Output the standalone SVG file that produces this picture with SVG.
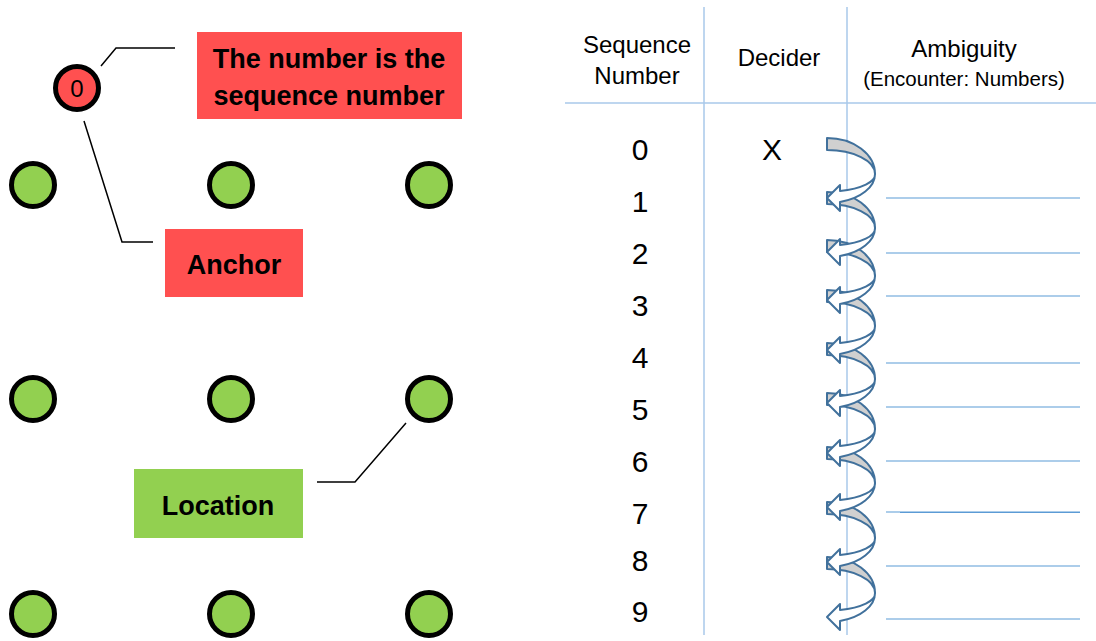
<svg xmlns="http://www.w3.org/2000/svg" width="1096" height="641" viewBox="0 0 1096 641">
  <style>
    .loc { fill: #92d050; stroke: #000; stroke-width: 5; }
    .anc { fill: #ff5050; stroke: #000; stroke-width: 5; }
    .lead { fill: none; stroke: #000; stroke-width: 1.5; }
    .lbl { font-family: "Liberation Sans", Arial, sans-serif; font-weight: bold; font-size: 27px; fill: #000; text-anchor: middle; }
    .hdr { font-family: "Liberation Sans", Arial, sans-serif; font-size: 24px; fill: #000; text-anchor: middle; }
    .sub { font-family: "Liberation Sans", Arial, sans-serif; font-size: 20.5px; fill: #000; text-anchor: middle; }
    .num { font-family: "Liberation Sans", Arial, sans-serif; font-size: 30px; fill: #000; text-anchor: middle; }
    .grid { stroke: #a9c9ea; stroke-width: 1.5; fill: none; }
    .row { stroke: #5b9bd5; stroke-width: 1.2; fill: none; }
    .back { fill: #d0d0d0; stroke: #41719c; stroke-width: 2; stroke-linejoin: round; }
    .front { fill: #ffffff; stroke: #41719c; stroke-width: 2; stroke-linejoin: round; }
  </style>
  <defs>
    <!-- one turn of the curved arrow: back band (grey) and front band with head -->
    <g id="turn">
      <path class="back" d="M0,0 A48,36 0 0 1 48,36 A48,24 0 0 0 0,12 Z"/>
      <path class="front" d="M48,36 A48,29 0 0 1 13,64 L13,73 L0,60 L13,47 L13,53 A48,17 0 0 0 48,36 Z"/>
    </g>
  </defs>

  <rect width="1096" height="641" fill="#fff"/>

  <!-- leader lines -->
  <g id="connectors">
    <polyline class="lead" points="101,66 116,48 175,48"/>
    <polyline class="lead" points="84,121 122,242 153,242"/>
    <polyline class="lead" points="406,423 355,482 317,482"/>
  </g>

  <!-- location grid -->
  <g id="loc-1-1"><circle class="loc" cx="33" cy="185" r="21.5"/></g>
  <g id="loc-1-2"><circle class="loc" cx="231" cy="185" r="21.5"/></g>
  <g id="loc-1-3"><circle class="loc" cx="429" cy="185" r="21.5"/></g>
  <g id="loc-2-1"><circle class="loc" cx="33" cy="399" r="21.5"/></g>
  <g id="loc-2-2"><circle class="loc" cx="231" cy="399" r="21.5"/></g>
  <g id="loc-2-3"><circle class="loc" cx="429" cy="399" r="21.5"/></g>
  <g id="loc-3-1"><circle class="loc" cx="33" cy="614" r="21.5"/></g>
  <g id="loc-3-2"><circle class="loc" cx="231" cy="614" r="21.5"/></g>
  <g id="loc-3-3"><circle class="loc" cx="429" cy="614" r="21.5"/></g>

  <!-- anchor node -->
  <g id="anchor-node">
    <circle class="anc" cx="77" cy="88" r="21.5"/>
    <text x="77" y="97" font-family="Liberation Sans, Arial, sans-serif" font-size="24" text-anchor="middle">0</text>
  </g>

  <!-- callout labels -->
  <g id="label-sequence">
    <rect x="197" y="32" width="265" height="87" fill="#ff5050"/>
    <text class="lbl" x="329" y="68">The number is the</text>
    <text class="lbl" x="329" y="105">sequence number</text>
  </g>
  <g id="label-anchor">
    <rect x="165" y="229" width="138" height="68" fill="#ff5050"/>
    <text class="lbl" x="234" y="274" font-size="29">Anchor</text>
  </g>
  <g id="label-location">
    <rect x="134" y="469" width="169" height="69" fill="#92d050"/>
    <text class="lbl" x="218" y="515" font-size="29">Location</text>
  </g>

  <!-- table grid -->
  <g id="table">
    <line class="grid" x1="704" y1="7" x2="704" y2="635"/>
    <line class="grid" x1="847" y1="7" x2="847" y2="635"/>
    <line class="grid" x1="565" y1="103" x2="1096" y2="103"/>
    <line class="row" x1="886" y1="198" x2="1080" y2="198"/>
    <line class="row" x1="886" y1="253" x2="1080" y2="253"/>
    <line class="row" x1="886" y1="296" x2="1080" y2="296"/>
    <line class="row" x1="886" y1="363" x2="1080" y2="363"/>
    <line class="row" x1="886" y1="407" x2="1080" y2="407"/>
    <line class="row" x1="886" y1="461" x2="1080" y2="461"/>
    <line class="row" x1="886" y1="512" x2="1080" y2="512"/>
    <line class="row" x1="900" y1="512.5" x2="1080" y2="512.5" stroke-width="1.8"/>
    <line class="row" x1="886" y1="566" x2="1080" y2="566"/>
    <line class="row" x1="886" y1="619" x2="1080" y2="619"/>
  </g>

  <!-- column headers -->
  <g id="headers">
    <text class="hdr" x="637" y="53">Sequence</text>
    <text class="hdr" x="637" y="84">Number</text>
    <text class="hdr" x="779" y="66">Decider</text>
    <text class="hdr" x="964" y="57" font-size="25">Ambiguity</text>
    <text class="sub" x="964" y="86">(Encounter: Numbers)</text>
  </g>

  <!-- sequence numbers -->
  <g id="numbers">
    <text class="num" x="640" y="160">0</text>
    <text class="num" x="640" y="212">1</text>
    <text class="num" x="640" y="264">2</text>
    <text class="num" x="640" y="316">3</text>
    <text class="num" x="640" y="368">4</text>
    <text class="num" x="640" y="420">5</text>
    <text class="num" x="640" y="472">6</text>
    <text class="num" x="640" y="524">7</text>
    <text class="num" x="640" y="571">8</text>
    <text class="num" x="640" y="622">9</text>
    <text class="num" x="772" y="160">X</text>
  </g>

  <!-- spiral of curved arrows, drawn bottom-up so each head lies over the next turn -->
  <g id="spiral">
    <use href="#turn" x="827" y="557"/>
    <use href="#turn" x="827" y="502"/>
    <use href="#turn" x="827" y="447"/>
    <use href="#turn" x="827" y="393"/>
    <use href="#turn" x="827" y="343"/>
    <use href="#turn" x="827" y="290"/>
    <use href="#turn" x="827" y="240"/>
    <use href="#turn" x="827" y="192"/>
    <use href="#turn" x="827" y="138"/>
  </g>
</svg>
